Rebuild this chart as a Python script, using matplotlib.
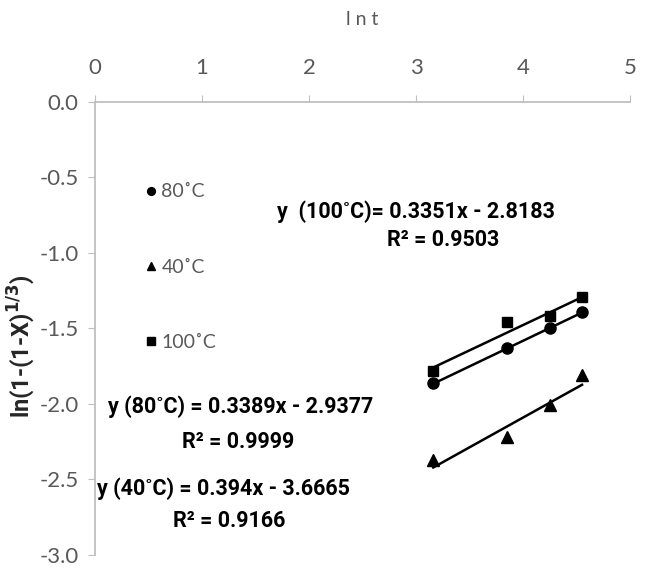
import numpy as np
import matplotlib.pyplot as plt

# data
ln_t = [3.16, 3.85, 4.25, 4.55]
y_80 = [-1.86, -1.63, -1.50, -1.39]
y_40 = [-2.37, -2.22, -2.01, -1.81]
y_100 = [-1.78, -1.46, -1.42, -1.29]

fits = {
    '80': (0.3389, -2.9377),
    '40': (0.394, -3.6665),
    '100': (0.3351, -2.8183),
}

x_ticks = [0, 1, 2, 3, 4, 5]
y_ticks = [0.0, -0.5, -1.0, -1.5, -2.0, -2.5, -3.0]

plt.rcParams['font.family'] = ['Lato', 'DejaVu Sans']
bold_font = ['Roboto', 'DejaVu Sans']

grey = '#595959'
axis_grey = '#bfbfbf'

fig = plt.figure(figsize=(6.47, 5.72), dpi=100)
ax = fig.add_axes([0.147, 0.030, 0.827, 0.792])

ax.plot(ln_t, y_80, 'o', color='black', markersize=8, label='80˚C', zorder=3)
ax.plot(ln_t, y_40, '^', color='black', markersize=8.5, label='40˚C', zorder=3)
ax.plot(ln_t, y_100, 's', color='black', markersize=7.5, label='100˚C', zorder=3)

# trendlines over the data range
xs = np.array([ln_t[0], ln_t[-1]])
for key in ['80', '40', '100']:
    m, b = fits[key]
    ax.plot(xs, m * xs + b, color='black', lw=1.8, zorder=2)

ax.set_xlim(0, 5)
ax.set_ylim(-3.0, 0.0)
ax.set_xticks(x_ticks)
ax.set_yticks(y_ticks)
ax.set_yticklabels(['%.1f' % v for v in y_ticks])

ax.xaxis.tick_top()
ax.xaxis.set_label_position('top')
ax.tick_params(axis='both', direction='out', length=5, color=axis_grey,
               labelcolor=grey, labelsize=16)
ax.tick_params(axis='x', pad=12)
ax.tick_params(axis='y', pad=7)

for side in ['right', 'bottom']:
    ax.spines[side].set_visible(False)
for side in ['left', 'top']:
    ax.spines[side].set_color(axis_grey)
    ax.spines[side].set_linewidth(1.3)

ax.set_xlabel('l n t', color=grey, fontsize=14)
ax.xaxis.set_label_coords(0.5, 1.17)
ax.set_ylabel(r'ln(1-(1-X)$^{\mathbf{1/3}}$)', fontsize=17, fontweight='bold',
              color='#262626', family=bold_font)
ax.yaxis.set_label_coords(-0.108, 0.46)

leg = ax.legend(loc='center left', bbox_to_anchor=(0.075, 0.635),
                frameon=False, fontsize=14, labelspacing=3.0,
                handletextpad=0.15, handlelength=0.8, markerscale=0.7,
                borderaxespad=0)
for t in leg.get_texts():
    t.set_color(grey)

eq_kw = dict(va='center', fontsize=15.5, fontweight='bold', color='black',
             family=bold_font)
ax.text(1.70, -0.728, 'y  (100˚C)= 0.3351x - 2.8183', ha='left', **eq_kw)
ax.text(3.25, -0.916, 'R² = 0.9503', ha='center', **eq_kw)
ax.text(0.12, -2.022, 'y (80˚C) = 0.3389x - 2.9377', ha='left', **eq_kw)
ax.text(1.34, -2.254, 'R² = 0.9999', ha='center', **eq_kw)
ax.text(0.02, -2.561, 'y (40˚C) = 0.394x - 3.6665', ha='left', **eq_kw)
ax.text(1.25, -2.774, 'R² = 0.9166', ha='center', **eq_kw)

fig.savefig('out.png', dpi=100)
